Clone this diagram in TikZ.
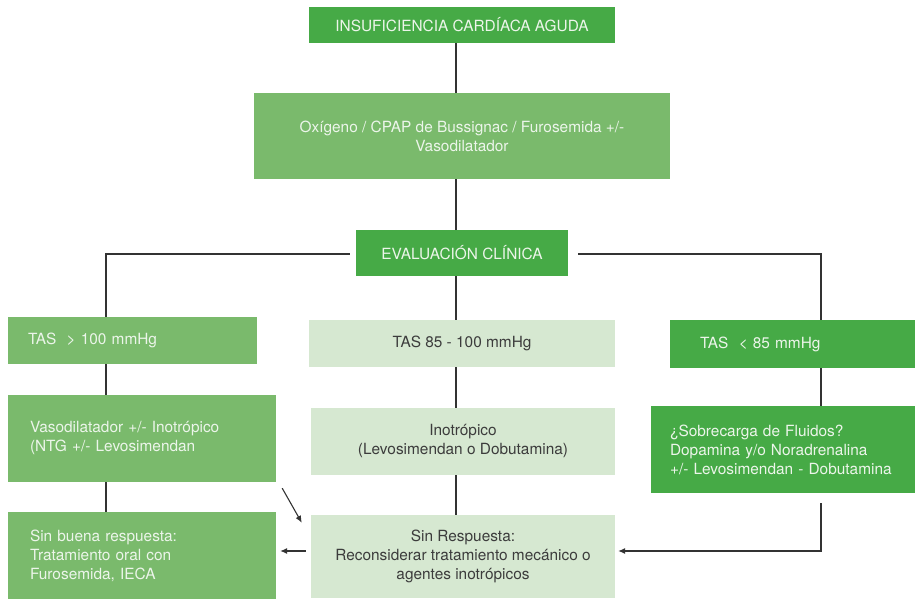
\documentclass[tikz,border=0pt]{standalone}
\usepackage{fontspec}
\setmainfont{TeX Gyre Heros}
\usetikzlibrary{arrows.meta}
\definecolor{gdark}{RGB}{70,170,70}
\definecolor{gmid}{RGB}{122,186,108}
\definecolor{glight}{RGB}{214,232,209}
\definecolor{txtlight}{RGB}{236,245,234}
\definecolor{txtdark}{RGB}{60,60,60}
\definecolor{wire}{RGB}{51,51,51}
\begin{document}
\begin{tikzpicture}[x=1pt,y=-1pt,
  font=\fontsize{15.4}{19}\selectfont,
  box/.style={rectangle, inner sep=0pt, align=center},
  dk/.style={box, fill=gdark, text=txtlight},
  md/.style={box, fill=gmid, text=txtlight},
  lt/.style={box, fill=glight, text=txtdark},
  wire/.style={draw=wire, line width=1.1pt},
  arrow/.style={wire, -{Latex[length=7pt,width=6pt]}}]
\useasboundingbox (0,0) rectangle (915,599);

% central column
\node[dk, minimum width=306, minimum height=36] (top) at (462,25) {INSUFICIENCIA CARDÍACA AGUDA};
\node[md, minimum width=416, minimum height=86] (oxy) at (462,136) {Oxígeno / CPAP de Bussignac / Furosemida +/-\\Vasodilatador};
\node[dk, minimum width=212, minimum height=46] (eval) at (462,253) {EVALUACIÓN CLÍNICA};
\node[lt, minimum width=306, minimum height=47] (mid) at (462,343.5) {TAS 85 - 100 mmHg};
\node[lt, minimum width=304, minimum height=67] (ino) at (463,441.5) {Inotrópico\\(Levosimendan o Dobutamina)};
\node[lt, minimum width=304, minimum height=83] (sinr) at (463,556.5) {Sin Respuesta:\\Reconsiderar tratamiento mecánico o\\agentes inotrópicos};

% left column
\node[md, minimum width=249, minimum height=47, text width=209, inner xsep=20pt, align=left] (tas1) at (132.5,340.5) {TAS~ > 100 mmHg};
\node[md, minimum width=268, minimum height=87, text width=224, inner xsep=22pt, align=left] (vaso) at (142,438.5) {Vasodilatador +/- Inotrópico\\(NTG +/- Levosimendan};
\node[md, minimum width=268, minimum height=87, text width=224, inner xsep=22pt, align=left] (sinb) at (142,555.5) {Sin buena respuesta:\\Tratamiento oral con\\Furosemida, IECA};

% right column
\node[dk, minimum width=245, minimum height=48, text width=185, inner xsep=30pt, align=left] (tas3) at (792.5,344) {TAS~ < 85 mmHg};
\node[dk, minimum width=264, minimum height=87, text width=226, inner xsep=19pt, align=left] (sob) at (783,449.5) {¿Sobrecarga de Fluidos?\\Dopamina y/o Noradrenalina\\+/- Levosimendan - Dobutamina};

% trunk and branch points
\coordinate (cx) at (456,0);
\coordinate (lj) at (106,254);
\coordinate (rj) at (821,254);
\coordinate (rd) at (821,551);

% connectors
\draw[wire] (cx |- top.south) -- (cx |- oxy.north);
\draw[wire] (cx |- oxy.south) -- (cx |- eval.north);
\draw[wire] (cx |- eval.south) -- (cx |- mid.north);
\draw[wire] (cx |- mid.south) -- (cx |- ino.north);
\draw[wire] (cx |- ino.south) -- (cx |- sinr.north);

\draw[wire] ([xshift=-6pt]eval.west |- lj) -- (lj) -- (lj |- tas1.north);
\draw[wire] (lj |- tas1.south) -- (lj |- vaso.north);
\draw[wire] (lj |- vaso.south) -- (lj |- sinb.north);

\draw[wire] ([xshift=10pt]eval.east |- rj) -- (rj) -- (rj |- tas3.north);
\draw[wire] (rj |- tas3.south) -- (rj |- sob.north);
\draw[arrow] ([yshift=-10pt]rj |- sob.south) -- (rd) -- ([xshift=3pt]sinr.east |- rd);

\draw[arrow] ([xshift=-5pt]sinr.west |- rd) -- ([xshift=4pt]sinb.east |- rd);
\draw[arrow] ([xshift=6pt,yshift=-6pt]vaso.south east) -- ([xshift=-9pt,yshift=-8pt]sinr.north west);
\end{tikzpicture}
\end{document}
